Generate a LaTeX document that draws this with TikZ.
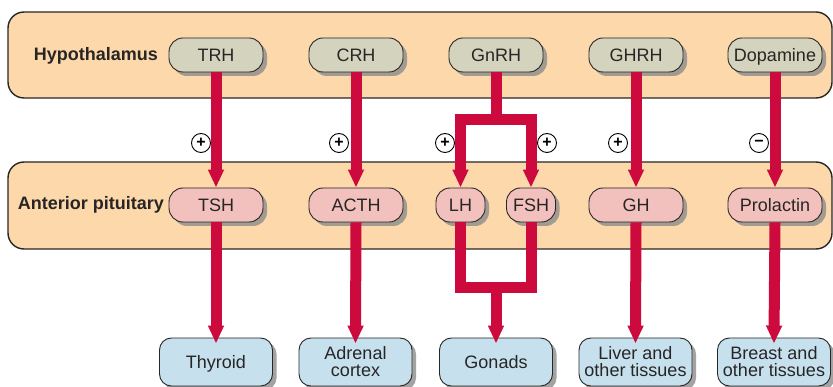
\documentclass[tikz,border=0pt]{standalone}
\usepackage{fontspec}
\setmainfont{Liberation Sans}
\usetikzlibrary{arrows.meta,shadows,positioning}
\definecolor{bandfill}{RGB}{253,216,170}
\definecolor{relfill}{RGB}{212,211,190}
\definecolor{pitfill}{RGB}{242,193,189}
\definecolor{tgtfill}{RGB}{198,224,238}
\definecolor{hormred}{RGB}{205,10,62}
\definecolor{inkgray}{RGB}{40,37,37}

\begin{document}
\begin{tikzpicture}[x=1pt,y=-1pt,
  hd/.tip={Triangle[width=15pt,length=18pt]},
  band/.style={draw=inkgray,line width=1.4pt,rounded corners=16pt,fill=bandfill},
  box/.style={rectangle,rounded corners=14pt,draw=inkgray,line width=0.9pt,
              inner sep=1pt,text=inkgray,
              drop shadow={shadow xshift=4pt,shadow yshift=-4pt,fill=black!45,opacity=.8}},
  pill/.style={box,minimum width=94pt,minimum height=34pt,
               text height=13pt,text depth=0pt,font=\fontsize{18}{18}\selectfont},
  relh/.style={pill,fill=relfill},
  pith/.style={pill,fill=pitfill},
  pitsmall/.style={pith,minimum width=49pt},
  tgt/.style={box,fill=tgtfill,minimum width=113pt,minimum height=48pt,
              rounded corners=12pt,align=center,font=\fontsize{18}{17}\selectfont},
  rowlbl/.style={font=\bfseries\fontsize{18}{18}\selectfont,text=inkgray,inner sep=0pt},
  sign/.style={circle,draw=black,line width=0.9pt,minimum size=19pt,inner sep=0pt,
               font=\bfseries\fontsize{16}{16}\selectfont},
  hormone/.style={draw=hormred,line width=11pt,-hd}]
\useasboundingbox (0,0) rectangle (833,387);
%% ── Bands ───────────────────────────────────────────────────────────────
\draw[band] (8,12) rectangle (832,98);
\draw[band] (8,162) rectangle (832,249);
\node[rowlbl,anchor=base east] (hypolbl) at (158,61) {Hypothalamus};
\node[rowlbl,anchor=base east] (pitlbl) at (164,210) {Anterior pituitary};
%% ── Releasing hormones ──────────────────────────────────────────────────
\node[relh] (trh) at (216,55) {TRH};
\node[relh] (crh) at (356,55) {CRH};
\node[relh] (gnrh) at (496,55) {GnRH};
\node[relh] (ghrh) at (636,55) {GHRH};
\node[relh] (dopa) at (775,55) {Dopamine};
%% ── Pituitary hormones ──────────────────────────────────────────────────
\node[pith] (tsh) at (216,205) {TSH};
\node[pith] (acth) at (356,205) {ACTH};
\node[pitsmall] (lh) at (460.5,205) {LH};
\node[pitsmall] (fsh) at (531,205) {FSH};
\node[pith] (gh) at (636,205) {GH};
\node[pith] (prl) at (775,205) {Prolactin};
%% ── Target tissues ──────────────────────────────────────────────────────
\node[tgt,text height=13pt,text depth=0pt] (thyroid) at (216,362) {Thyroid};
\node[tgt] (adrenal) at (355.5,362) {Adrenal\\cortex};
\node[tgt] (gonads) at (496,362) {Gonads};
\node[tgt] (liver) at (635.5,362) {Liver and\\other tissues};
\node[tgt] (breast) at (774,362) {Breast and\\other tissues};
%% ── Hypothalamus → pituitary ────────────────────────────────────────────
\draw[hormone] (trh.south) -- (tsh.north);
\draw[hormone] (crh.south) -- (acth.north);
\coordinate (gsplit) at (496,120);
\draw[hormone,-] (gnrh.south) -- (gsplit);
\draw[hormone,hd-hd] (lh.north) -- (lh.north |- gsplit)
  -- (fsh.north |- gsplit) -- (fsh.north);
\draw[hormone] (ghrh.south) -- (gh.north);
\draw[hormone] (dopa.south) -- (prl.north);
%% ── Pituitary → targets ─────────────────────────────────────────────────
\draw[hormone,shorten >=-6pt] (tsh.south) -- (thyroid.north);
\draw[hormone,shorten >=-6pt] (acth.south) -- (adrenal.north);
\coordinate (gjoin) at (496,288);
\draw[hormone,-] (lh.south) -- (lh.south |- gjoin)
  -- (fsh.south |- gjoin) -- (fsh.south);
\draw[hormone,shorten >=-6pt] (gjoin) -- (gonads.north);
\draw[hormone,shorten >=-6pt] (gh.south) -- (liver.north);
\draw[hormone,shorten >=-6pt] (prl.south) -- (breast.north);
%% ── Stimulation / inhibition signs ──────────────────────────────────────
\node[sign] (s-trh) at (201,143) {+};
\node[sign] (s-crh) at (339,143) {+};
\node[sign] (s-lh) at (445,143) {+};
\node[sign] (s-fsh) at (547,143) {+};
\node[sign] (s-ghrh) at (618,143) {+};
\node[sign] (s-dopa) at (759,143) {−};
\end{tikzpicture}
\end{document}
